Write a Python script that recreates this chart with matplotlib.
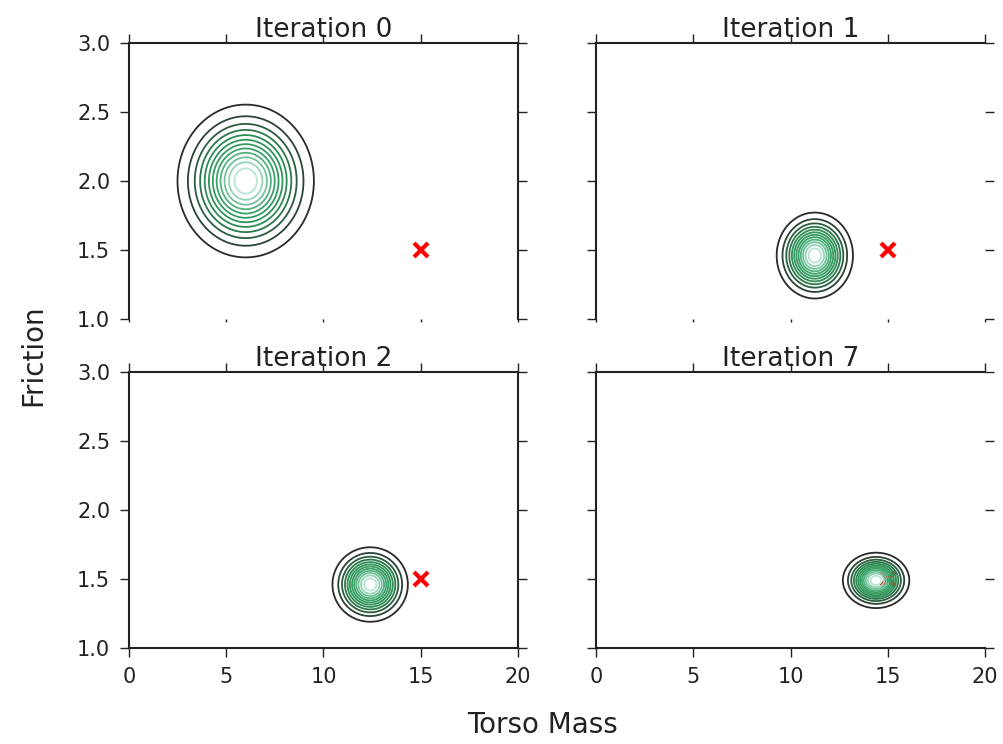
import numpy as np
import matplotlib
matplotlib.use("Agg")
import matplotlib.pyplot as plt
from matplotlib.colors import LinearSegmentedColormap

# posterior over (torso mass, friction) after each iteration
iterations = [0, 1, 2, 7]
mass_mean = [6.0, 11.25, 12.4, 14.4]
mass_std = [1.52, 0.85, 0.84, 0.74]
friction_mean = [2.0, 1.46, 1.46, 1.49]
friction_std = [0.24, 0.135, 0.117, 0.087]

# true parameters
true_mass = 15.0
true_friction = 1.5

# dark grey -> green -> pale green, like seaborn's BuGn_r_d
cmap = LinearSegmentedColormap.from_list(
    "bugn_dark", ["#2a2a2a", "#2c8a52", "#3aa56a", "#b8e5d6"])
levels = np.linspace(0.07, 0.93, 12)

plt.rcParams["font.family"] = "DejaVu Sans"

fig = plt.figure(figsize=(10.04, 7.44), dpi=100)

lefts = [129 / 1004, 596 / 1004]
bottoms = [1 - 319 / 744, 1 - 648 / 744]
w = 389 / 1004
h = 276 / 744

xx, yy = np.meshgrid(np.linspace(0, 20, 300), np.linspace(1, 3, 300))

axes = []
for i, it in enumerate(iterations):
    row, col = divmod(i, 2)
    ax = fig.add_axes([lefts[col], bottoms[row], w, h])
    axes.append(ax)

    z = np.exp(-0.5 * (((xx - mass_mean[i]) / mass_std[i]) ** 2
                       + ((yy - friction_mean[i]) / friction_std[i]) ** 2))
    ax.plot([true_mass], [true_friction], "x", color="red", ms=10, mew=3, zorder=1)
    ax.contour(xx, yy, z, levels=levels, cmap=cmap, linewidths=1.3, zorder=2)

    ax.set_xlim(0, 20)
    ax.set_ylim(1, 3)
    ax.set_xticks([0, 5, 10, 15, 20])
    ax.set_yticks([1.0, 1.5, 2.0, 2.5, 3.0])
    ax.set_title("Iteration %d" % it, fontsize=19, pad=4, color="#222222")

    ax.tick_params(direction="out", length=6.5, width=1, colors="#222222",
                   labelsize=15, pad=7, top=True, right=True)
    for s in ax.spines.values():
        s.set_linewidth(1.5)
        s.set_color("#222222")

    if row == 0:
        ax.tick_params(labelbottom=False)
        ax.xaxis.set_tick_params(which="major", length=2.5)
        ax.tick_params(axis="x", top=True)
        ax.spines["bottom"].set_visible(False)
    if col == 1:
        ax.tick_params(labelleft=False)
        ax.spines["right"].set_visible(False)

# keep the top ticks full length on the upper row
for ax in axes[:2]:
    for t in ax.xaxis.get_major_ticks():
        t.tick2line.set_markersize(6.5)

fig.text(543 / 1004, 1 - 725 / 744, "Torso Mass", fontsize=20, ha="center", va="center", color="#222222")
fig.text(33 / 1004, 1 - 355 / 744, "Friction", fontsize=20, rotation=90, ha="center", va="center", color="#222222")

fig.savefig("out.png", dpi=100)
